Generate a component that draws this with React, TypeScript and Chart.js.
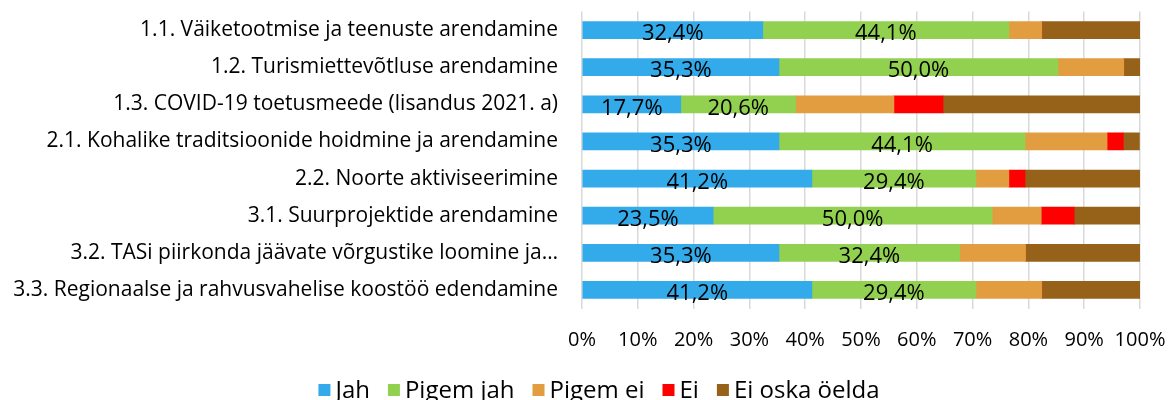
import React, { useEffect, useRef } from "react";
import { Chart, registerables } from "chart.js";

Chart.register(...registerables);

const categories = [
  "1.1. Väiketootmise ja teenuste arendamine",
  "1.2. Turismiettevõtluse arendamine",
  "1.3. COVID-19 toetusmeede (lisandus 2021. a)",
  "2.1. Kohalike traditsioonide hoidmine ja arendamine",
  "2.2. Noorte aktiviseerimine",
  "3.1. Suurprojektide arendamine",
  "3.2. TASi piirkonda jäävate võrgustike loomine ja…",
  "3.3. Regionaalse ja rahvusvahelise koostöö edendamine",
];

const seriesNames = ["Jah", "Pigem jah", "Pigem ei", "Ei", "Ei oska öelda"];
const jah = [32.4, 35.3, 17.7, 35.3, 41.2, 23.5, 35.3, 41.2];
const pigemJah = [44.1, 50.0, 20.6, 44.1, 29.4, 50.0, 32.4, 29.4];
const pigemEi = [5.9, 11.8, 17.6, 14.7, 5.9, 8.8, 11.8, 11.8];
const ei = [0, 0, 8.8, 2.9, 2.9, 5.9, 0, 0];
const eiOska = [17.6, 2.9, 35.3, 2.9, 20.6, 11.8, 20.6, 17.6];
const colors = ["#33AAEA", "#92D050", "#E39D41", "#FF0000", "#966118"];
const xTicks = [0, 10, 20, 30, 40, 50, 60, 70, 80, 90, 100];
const labelledSeries = [0, 1];

const FONT = "'Open Sans', Lato, sans-serif";
const FS = 20;

const labelPlugin = {
  id: "segLabels",
  afterDatasetsDraw(chart: any) {
    const ctx = chart.ctx;
    ctx.save();
    ctx.font = `22px ${FONT}`;
    ctx.fillStyle = "#000";
    ctx.textAlign = "center";
    ctx.textBaseline = "middle";
    labelledSeries.forEach((di) => {
      const meta = chart.getDatasetMeta(di);
      meta.data.forEach((bar: any, i: number) => {
        const v = chart.data.datasets[di].data[i];
        if (!v) return;
        const cx = (bar.x + bar.base) / 2;
        ctx.fillText(v.toFixed(1).replace(".", ",") + "%", cx, bar.y + 4);
      });
    });
    ctx.restore();
  },
};

const legendPlugin = {
  id: "customLegend",
  afterDraw(chart: any) {
    const ctx = chart.ctx;
    ctx.save();
    ctx.font = `24px ${FONT}`;
    ctx.textBaseline = "middle";
    ctx.textAlign = "left";
    const box = 12;
    const gapText = 5;
    const gapItem = 18;
    const ds = chart.data.datasets;
    const widths = ds.map((d: any) => ctx.measureText(d.label).width);
    const total =
      widths.reduce((a: number, b: number) => a + b, 0) +
      ds.length * (box + gapText) +
      (ds.length - 1) * gapItem;
    let x = 599 - total / 2;
    const cy = 390;
    ds.forEach((d: any, i: number) => {
      ctx.fillStyle = d.backgroundColor;
      ctx.fillRect(x, cy - box / 2, box, box);
      x += box + gapText;
      ctx.fillStyle = "#000";
      ctx.fillText(d.label, x, cy + 1);
      x += widths[i] + gapItem;
    });
    ctx.restore();
  },
};

export default function App() {
  const ref = useRef<HTMLCanvasElement>(null);
  useEffect(() => {
    const data = [jah, pigemJah, pigemEi, ei, eiOska];
    const chart = new Chart(ref.current!, {
      type: "bar",
      data: {
        labels: categories,
        datasets: seriesNames.map((n, i) => ({
          label: n,
          data: data[i],
          backgroundColor: colors[i],
          borderWidth: 0,
          barThickness: 17,
        })),
      },
      options: {
        indexAxis: "y",
        animation: false,
        responsive: false,
        maintainAspectRatio: false,
        layout: { padding: { top: 11.5, right: 30, bottom: 38, left: 0 } },
        scales: {
          x: {
            stacked: true,
            min: 0,
            max: 100,
            afterBuildTicks: (s: any) => {
              s.ticks = xTicks.map((v) => ({ value: v }));
            },
            afterFit: (s: any) => {
              s.height = 53.5;
              s.paddingLeft = 0;
              s.paddingRight = 0;
            },
            ticks: {
              callback: (v: any) => v + "%",
              font: { family: FONT, size: FS },
              color: "#000",
              padding: 19.5,
              maxRotation: 0,
            },
            grid: { color: "#D9D9D9", lineWidth: 1.5, drawTicks: false },
            border: { display: false },
          },
          y: {
            stacked: true,
            afterFit: (s: any) => {
              s.width = 582;
              s.paddingTop = 0;
              s.paddingBottom = 0;
            },
            ticks: {
              font: { family: FONT, size: 21 },
              color: "#000",
              padding: 24,
              autoSkip: false,
            },
            grid: { display: false, drawTicks: false },
            border: { display: false },
          },
        },
        plugins: {
          legend: { display: false },
          tooltip: { enabled: false },
        },
      },
      plugins: [labelPlugin, legendPlugin],
    } as any);
    return () => chart.destroy();
  }, []);
  return (
    <div style={{ position: "fixed", left: 0, top: 0, width: 1170, height: 400, background: "#fff" }}>
      <canvas ref={ref} width={1170} height={400} />
    </div>
  );
}
